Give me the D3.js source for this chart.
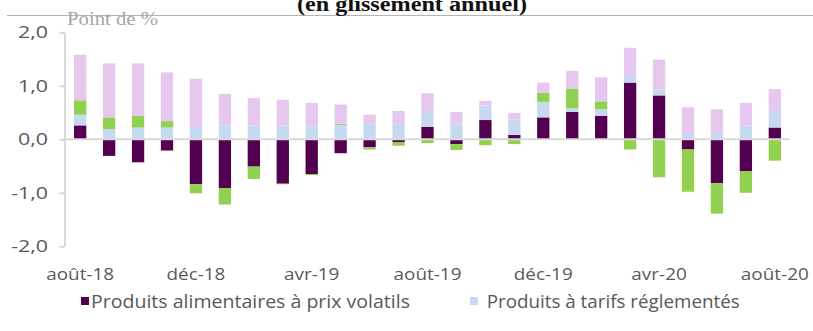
<!DOCTYPE html>
<html lang="fr">
<head>
<meta charset="utf-8">
<script src="https://cdn.jsdelivr.net/npm/d3@7"></script>
<style>
  html, body { margin: 0; padding: 0; background: #fff; }
  svg { display: block; }
</style>
</head>
<body>
<svg id="chart" width="813" height="331"></svg>
<script>
// Contributions à l'inflation, en points de %, août-18 à août-20
const months = ["août-18","sept-18","oct-18","nov-18","déc-18","janv-19","févr-19","mars-19","avr-19","mai-19","juin-19","juil-19",
                "août-19","sept-19","oct-19","nov-19","déc-19","janv-20","févr-20","mars-20","avr-20","mai-20","juin-20","juil-20","août-20"];
const alimentaires = [0.26,-0.31,-0.43,-0.21,-0.84,-0.91,-0.51,-0.83,-0.65,-0.26,-0.15,-0.05,0.23,-0.09,0.36,0.08,0.41,0.51,0.44,1.06,0.82,-0.19,-0.82,-0.60,0.22];
const tarifs       = [0.20,0.19,0.22,0.22,0.23,0.26,0.26,0.26,0.24,0.27,0.29,0.29,0.30,0.29,0.27,0.29,0.29,0.07,0.12,0.12,0.11,0.10,0.12,0.26,0.31];
const petroliers   = [0.27,0.22,0.22,0.12,-0.17,-0.31,-0.23,-0.01,-0.02,0.02,-0.04,-0.07,-0.07,-0.11,-0.11,-0.09,0.17,0.37,0.15,-0.19,-0.71,-0.79,-0.57,-0.40,-0.40];
const sousJacente  = [0.85,1.01,0.98,0.91,0.90,0.59,0.51,0.48,0.44,0.36,0.17,0.24,0.33,0.22,0.09,0.12,0.19,0.33,0.45,0.53,0.56,0.50,0.44,0.42,0.41];
const yTicks = [-2, -1, 0, 1, 2];
const xTickMonths = ["août-18","déc-18","avr-19","août-19","déc-19","avr-20","août-20"];

const seriesNames = ["Produits alimentaires à prix volatils", "Produits à tarifs réglementés", "Produits pétroliers", "Inflation sous-jacente"];
const seriesValues = [alimentaires, tarifs, petroliers, sousJacente];
const colors = ["#530050", "#c6d9f1", "#92d050", "#e6c8ef"];
const legendItems = [0, 1];

const rows = months.map((m, i) => {
  const r = { month: m };
  seriesNames.forEach((s, k) => { r[s] = seriesValues[k][i]; });
  return r;
});

const svg = d3.select("#chart");
const sans = "'Open Sans', 'Liberation Sans', sans-serif";
const serif = "'Liberation Serif', 'DejaVu Serif', serif";

const x = d3.scaleBand().domain(months).range([65.7, 789.3]).paddingInner(0.575).paddingOuter(0.2875);
const y = d3.scaleLinear().domain([-2, 2]).range([246.3, 32.3]);
const axisX = 64.5;

// stretch a group of labels horizontally so a reference string reaches a given width
function stretch(sel, refText, refWidth) {
  const probe = svg.append("text").attr("font-family", sel.attr("font-family") || sans)
    .attr("font-size", sel.attr("font-size")).text(refText);
  const k = refWidth / probe.node().getComputedTextLength();
  probe.remove();
  return k;
}

// header rule and title
svg.append("line").attr("x1", 7).attr("x2", 813).attr("y1", 15.5).attr("y2", 15.5)
  .attr("stroke", "#b4b4b4").attr("stroke-width", 1);
svg.append("text").attr("x", 297).attr("y", 11).attr("font-family", serif).attr("font-weight", "bold")
  .attr("font-size", 22).attr("fill", "#111").attr("textLength", 230).attr("lengthAdjust", "spacingAndGlyphs")
  .text("(en glissement annuel)");
svg.append("text").attr("x", 67).attr("y", 25).attr("font-family", serif).attr("font-size", 18)
  .attr("fill", "#a6a6a6").attr("textLength", 91).attr("lengthAdjust", "spacingAndGlyphs")
  .text("Point de %");

// stacked bars (positives upward, negatives downward)
const stacked = d3.stack().keys(seriesNames).offset(d3.stackOffsetDiverging)(rows);
svg.append("g").selectAll("g").data(stacked).join("g")
  .attr("fill", (d, i) => colors[i])
  .selectAll("rect").data(d => d).join("rect")
  .attr("x", d => x(d.data.month))
  .attr("width", x.bandwidth())
  .attr("y", d => y(Math.max(d[0], d[1])))
  .attr("height", d => Math.abs(y(d[0]) - y(d[1])));

// zero line
svg.append("line").attr("x1", axisX - 1).attr("x2", 789.6).attr("y1", y(0)).attr("y2", y(0))
  .attr("stroke", "#d9d9d9").attr("stroke-width", 2);

// y axis
const yAxis = d3.axisLeft(y).tickValues(yTicks).tickSize(5).tickSizeOuter(0)
  .tickFormat(d => d.toFixed(1).replace(".", ","));
const gy = svg.append("g").attr("transform", `translate(${axisX},0)`).call(yAxis);
gy.select(".domain").attr("stroke", "#d9d9d9").attr("stroke-width", 2);
gy.selectAll(".tick line").attr("stroke", "#d9d9d9").attr("stroke-width", 2);
gy.selectAll(".tick text").attr("font-family", sans).attr("font-size", 16).attr("fill", "#595959");
const ky = stretch(gy.select(".tick text").attr("font-family", sans).attr("font-size", 16), "2,0", 30);
gy.selectAll(".tick text").attr("x", -16.5 / ky).attr("dy", "0.35em").attr("transform", `scale(${ky},1)`);

// x labels
const xAxis = d3.axisBottom(x).tickValues(xTickMonths).tickSize(0).tickPadding(0);
const gx = svg.append("g").attr("transform", "translate(0,0)").call(xAxis);
gx.select(".domain").remove();
gx.selectAll(".tick text").attr("font-family", sans).attr("font-size", 17).attr("fill", "#595959")
  .attr("y", 280).attr("dy", 0);
const kx = stretch(gx.select(".tick text"), "août-18", 68);
gx.selectAll(".tick text").attr("transform", `scale(${kx},1)`);

// legend
const legendPos = [{ sx: 81, tx: 91, w: 319 }, { sx: 470, tx: 486.7, w: 253 }];
const lg = svg.append("g");
legendItems.forEach((k, j) => {
  const p = legendPos[j];
  lg.append("rect").attr("x", p.sx).attr("y", 297).attr("width", 8).attr("height", 8).attr("fill", colors[k]);
  lg.append("text").attr("x", p.tx).attr("y", 308.3).attr("font-family", sans).attr("font-size", 18)
    .attr("fill", "#595959").attr("textLength", p.w).attr("lengthAdjust", "spacingAndGlyphs")
    .text(seriesNames[k]);
});
</script>
</body>
</html>
